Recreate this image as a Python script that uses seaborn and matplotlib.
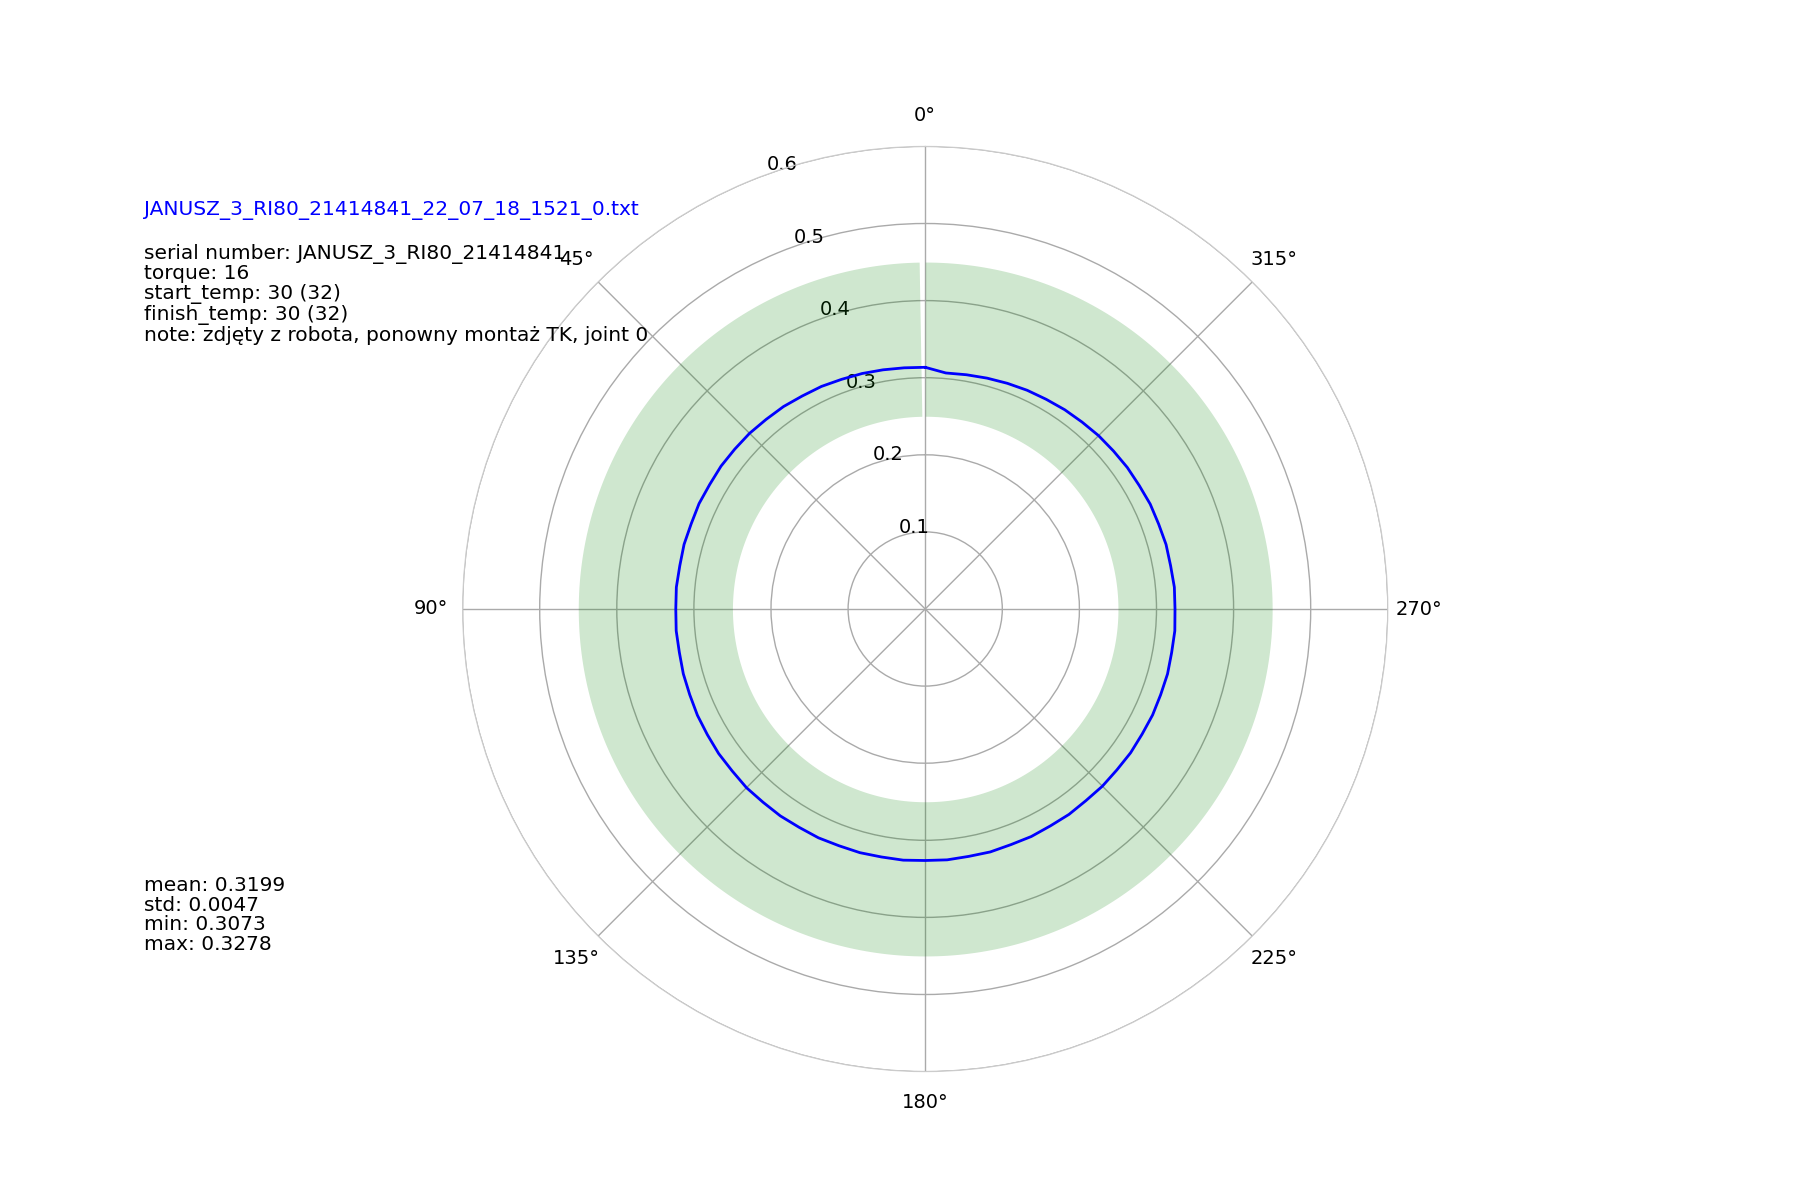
import matplotlib
matplotlib.use("Agg")
import matplotlib.pyplot as plt
import seaborn as sns
import numpy as np

sns.set_style("white")
plt.rcParams['font.family'] = ['DejaVu Sans']
plt.rcParams['text.color'] = 'black'
plt.rcParams['xtick.color'] = 'black'
plt.rcParams['ytick.color'] = 'black'

# radius measured every 5 degrees (counter-clockwise from top)
angles_deg = list(range(0, 360, 5))
radius = [0.3135, 0.3140, 0.3150, 0.3162, 0.3170, 0.3185, 0.3190, 0.3205, 0.3210, 0.3222,
          0.3225, 0.3232, 0.3228, 0.3236, 0.3230, 0.3238, 0.3232, 0.3240, 0.3235, 0.3242,
          0.3238, 0.3248, 0.3250, 0.3260, 0.3262, 0.3270, 0.3268, 0.3278, 0.3272, 0.3276,
          0.3270, 0.3275, 0.3268, 0.3272, 0.3266, 0.3270, 0.3262, 0.3266, 0.3258, 0.3262,
          0.3252, 0.3256, 0.3248, 0.3252, 0.3244, 0.3250, 0.3246, 0.3252, 0.3248, 0.3254,
          0.3250, 0.3254, 0.3246, 0.3250, 0.3240, 0.3244, 0.3232, 0.3234, 0.3222, 0.3220,
          0.3205, 0.3200, 0.3188, 0.3180, 0.3165, 0.3155, 0.3140, 0.3130, 0.3115, 0.3100,
          0.3085, 0.3073]
band_low, band_high = 0.25, 0.45
file_name = "JANUSZ_3_RI80_21414841_22_07_18_1521_0.txt"
info_lines = ["serial number: JANUSZ_3_RI80_21414841", "torque: 16",
              "start_temp: 30 (32)", "finish_temp: 30 (32)",
              "note: zdjęty z robota, ponowny montaż TK, joint 0"]
stats = {"mean": 0.3199, "std": 0.0047, "min": 0.3073, "max": 0.3278}

fig = plt.figure(figsize=(18, 12), dpi=100)
ax = fig.add_axes([0.257, 0.107, 0.514, 0.771], projection='polar')
ax.set_theta_zero_location('N')
ax.set_theta_direction(1)

th_band = np.radians(np.linspace(1, 360, 400))
ax.fill_between(th_band, band_low, band_high, color='green', alpha=0.19, linewidth=0)

th = np.radians(np.array(angles_deg + [360]))
r = np.array(radius + [radius[0]])
ax.plot(th, r, color='blue', linewidth=2)

ax.set_ylim(0, 0.6)
ax.set_yticks([0.1, 0.2, 0.3, 0.4, 0.5, 0.6])
ax.set_rlabel_position(20)
ax.set_thetagrids(range(0, 360, 45), [f"{a}°" for a in range(0, 360, 45)])
ax.tick_params(labelsize=14)
ax.tick_params(axis='x', pad=12)
ax.grid(True, color='#aaaaaa', linewidth=1)
ax.spines['polar'].set_color('#cccccc')
ax.spines['polar'].set_linewidth(0.8)

fig.text(0.08, 0.825, file_name, color='blue', fontsize=14.5, va='center')
fig.text(0.08, 0.797, "\n".join(info_lines), fontsize=14.5, va='top', linespacing=1.05)
fig.text(0.08, 0.27, "\n".join(f"{k}: {v:.4f}" for k, v in stats.items()),
         fontsize=14.5, va='top', linespacing=1.05)

fig.savefig("out.png", dpi=100)
